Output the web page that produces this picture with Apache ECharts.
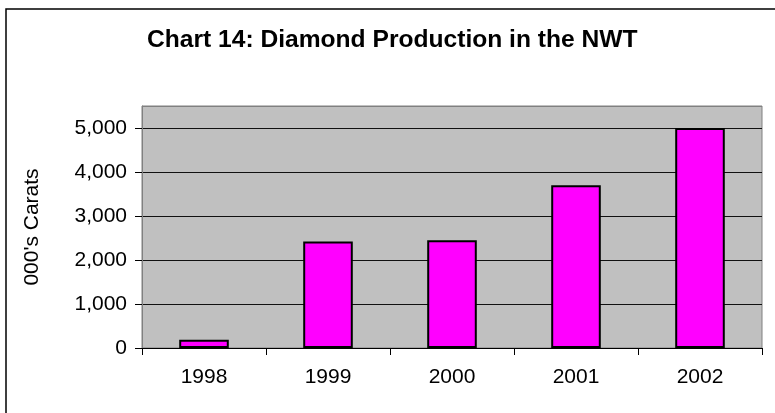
<!DOCTYPE html>
<html>
<head>
<meta charset="utf-8">
<title>Chart 14: Diamond Production in the NWT</title>
<script src="https://cdn.jsdelivr.net/npm/echarts@6/dist/echarts.min.js"></script>
<style>
  html, body { margin: 0; padding: 0; background: #fff; }
  #main { width: 775px; height: 413px; }
</style>
</head>
<body>
<div id="main"></div>
<script>
// data
const years = ['1998', '1999', '2000', '2001', '2002'];
const carats = [190, 2420, 2450, 3700, 5000];
const yMin = 0;
const yMax = 5500;      // plot area runs a half step above the last label
const yLabelMax = 5000;
const yStep = 1000;

const font = 'Liberation Sans, Arial, Helvetica, sans-serif';
const labelSize = 21;

const chart = echarts.init(document.getElementById('main'));

const option = {
  backgroundColor: '#fff',
  animation: false,
  title: {
    text: 'Chart 14: Diamond Production in the NWT',
    left: 147,
    top: 28,
    padding: 0,
    textStyle: { fontFamily: font, fontSize: 24.6, fontWeight: 'bold', color: '#000' }
  },
  // outer chart frame (cut off on the right and bottom in the original)
  graphic: [{
    type: 'rect',
    shape: { x: 6, y: 9, width: 900, height: 600 },
    style: { fill: null, stroke: '#000', lineWidth: 1.5 },
    silent: true
  }],
  grid: [
    {
      left: 142, right: 13, top: 106, bottom: 65,
      show: true,
      backgroundColor: '#c0c0c0',
      borderColor: '#808080',
      borderWidth: 1
    },
    // same plot, only used for the y ticks/labels that stop at 5,000
    { left: 142, right: 13, top: 128, bottom: 65 }
  ],
  xAxis: [
    {
      type: 'category',
      data: years,
      gridIndex: 0,
      axisLine: { lineStyle: { color: '#000', width: 1 } },
      axisTick: { show: true, length: 7, lineStyle: { color: '#000' } },
      axisLabel: { margin: 19, fontFamily: font, fontSize: labelSize, color: '#000' }
    },
    { type: 'category', data: years, gridIndex: 1, show: false }
  ],
  yAxis: [
    {
      type: 'value',
      gridIndex: 0,
      min: yMin,
      max: yMax,
      interval: yStep,
      name: "000's Carats",
      nameLocation: 'middle',
      nameRotate: 90,
      nameGap: 99,
      nameTextStyle: { fontFamily: font, fontSize: labelSize, color: '#000' },
      axisLine: { show: true, lineStyle: { color: '#808080', width: 1 } },
      axisTick: { show: false },
      axisLabel: { show: false },
      splitLine: {
        show: true,
        lineStyle: {
          width: 1,
          // last line sits on the plot's top edge, keep it grey
          color: ['#111', '#111', '#111', '#111', '#111', '#111', '#808080']
        }
      }
    },
    {
      type: 'value',
      gridIndex: 1,
      min: yMin,
      max: yLabelMax,
      interval: yStep,
      axisLine: { show: false },
      axisTick: { show: true, length: 7, lineStyle: { color: '#000' } },
      axisLabel: {
        margin: 15,
        fontFamily: font,
        fontSize: labelSize,
        color: '#000',
        formatter: function (v) { return v.toLocaleString('en-US'); }
      },
      splitLine: { show: false }
    }
  ],
  series: [
    {
      name: "000's Carats",
      type: 'bar',
      xAxisIndex: 0,
      yAxisIndex: 0,
      data: carats,
      barWidth: '40%',
      itemStyle: {
        color: '#ff00ff',
        borderColor: '#000',
        borderWidth: 2
      }
    }
  ]
};

chart.setOption(option);
</script>
</body>
</html>
